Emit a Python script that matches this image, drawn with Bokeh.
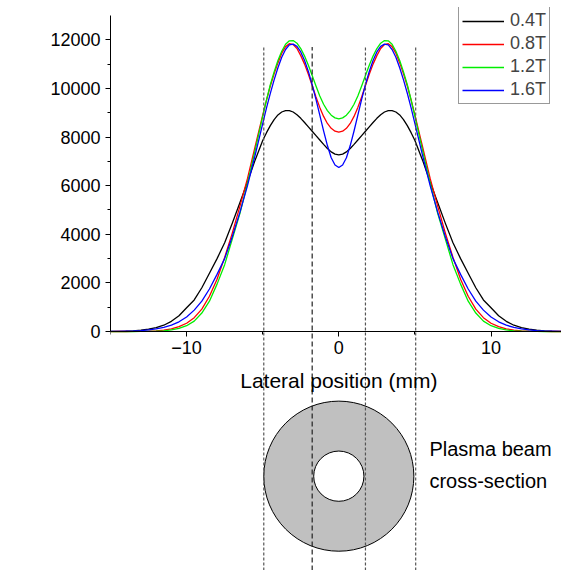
import math
from bokeh.plotting import figure
from bokeh.models import FixedTicker, Legend, LegendItem, Label
from bokeh.embed import file_html
from bokeh.resources import INLINE
from bokeh.core.properties import value

FONT = "Liberation Sans"

# Lateral position (mm)
positions = [-15.0, -14.5, -14.0, -13.5, -13.0, -12.5, -12.0, -11.5, -11.0, -10.5,
             -10.0, -9.5, -9.0, -8.5, -8.0, -7.5, -7.0, -6.5, -6.0, -5.5,
             -5.0, -4.75, -4.5, -4.25, -4.0, -3.75, -3.5, -3.25, -3.0, -2.75,
             -2.5, -2.25, -2.0, -1.75, -1.5, -1.25, -1.0, -0.75, -0.5, -0.25,
             0.0,
             0.25, 0.5, 0.75, 1.0, 1.25, 1.5, 1.75, 2.0, 2.25, 2.5,
             2.75, 3.0, 3.25, 3.5, 3.75, 4.0, 4.25, 4.5, 4.75, 5.0,
             5.5, 6.0, 6.5, 7.0, 7.5, 8.0, 8.5, 9.0, 9.5, 10.0,
             10.5, 11.0, 11.5, 12.0, 12.5, 13.0, 13.5, 14.0, 14.5, 15.0]

# Emission (a.u.) for each magnetic field
em_04T = [4, 8, 15, 30, 55, 95, 160, 260, 420, 650,
          980, 1300, 1800, 2400, 3000, 3650, 4450, 5300, 6150, 7050,
          7860, 8180, 8470, 8720, 8910, 9030, 9085, 9085, 9030, 8920,
          8770, 8600, 8420, 8240, 8060, 7880, 7700, 7530, 7390, 7300,
          7270,
          7300, 7390, 7530, 7700, 7880, 8060, 8240, 8420, 8600, 8770,
          8920, 9030, 9085, 9085, 9030, 8910, 8720, 8470, 8180, 7860,
          7050, 6150, 5300, 4450, 3650, 3000, 2400, 1800, 1300, 980,
          650, 420, 260, 160, 95, 55, 30, 15, 8, 4]
em_08T = [0, 1, 2, 4, 8, 15, 30, 60, 110, 200,
          340, 570, 920, 1450, 2150, 3050, 4050, 5150, 6300, 7600,
          8900, 9520, 10100, 10600, 11050, 11450, 11720, 11840, 11800, 11640,
          11350, 11000, 10580, 10120, 9650, 9220, 8850, 8560, 8360, 8240,
          8200,
          8240, 8360, 8560, 8850, 9220, 9650, 10120, 10580, 11000, 11350,
          11640, 11800, 11840, 11720, 11450, 11050, 10600, 10100, 9520, 8900,
          7600, 6300, 5150, 4050, 3050, 2150, 1450, 920, 570, 340,
          200, 110, 60, 30, 15, 8, 4, 2, 1, 0]
em_12T = [0, 0, 0, 1, 3, 6, 14, 30, 65, 130,
          240, 430, 760, 1250, 1950, 2750, 3800, 4850, 6100, 7450,
          8850, 9530, 10150, 10680, 11150, 11530, 11820, 11960, 11970, 11860,
          11640, 11330, 10950, 10530, 10100, 9690, 9350, 9090, 8900, 8790,
          8750,
          8790, 8900, 9090, 9350, 9690, 10100, 10530, 10950, 11330, 11640,
          11860, 11970, 11960, 11820, 11530, 11150, 10680, 10150, 9530, 8850,
          7450, 6100, 4850, 3800, 2750, 1950, 1250, 760, 430, 240,
          130, 65, 30, 14, 6, 3, 1, 0, 0, 0]
em_16T = [3, 6, 12, 22, 40, 65, 105, 170, 260, 400,
          600, 880, 1250, 1750, 2350, 3000, 3900, 4900, 6000, 7250,
          8550, 9200, 9800, 10350, 10850, 11280, 11600, 11790, 11820, 11730,
          11500, 11150, 10700, 10150, 9550, 8900, 8250, 7650, 7150, 6850,
          6750,
          6850, 7150, 7650, 8250, 8900, 9550, 10150, 10700, 11150, 11500,
          11730, 11820, 11790, 11600, 11280, 10850, 10350, 9800, 9200, 8550,
          7250, 6000, 4900, 3900, 3000, 2350, 1750, 1250, 880, 600,
          400, 260, 170, 105, 65, 40, 22, 12, 6, 3]

series_labels = ["0.4T", "0.8T", "1.2T", "1.6T"]
series_colors = ["#000000", "#ff0000", "#00ee00", "#0000ff"]
series_values = [em_04T, em_08T, em_12T, em_16T]

y_ticks = [0, 2000, 4000, 6000, 8000, 10000, 12000]
y_minor = [1000, 3000, 5000, 7000, 9000, 11000]
x_ticks = [-10, 0, 10]
x_minor = [-15, -5, 5, 15]

# beam cross-section (annulus) and guide lines
guide_x = [-4.93, -1.75, 1.75, 5.05]
ring_outer = 4.93
ring_inner = 1.65
ring_center_y = -5950

Y_AXIS_TOP = 13000
Y_TOP = 13329
Y_BOT = -9830

p = figure(width=561, height=570, x_range=(-15, 14.63), y_range=(Y_BOT, Y_TOP),
           output_backend="svg", toolbar_location=None,
           min_border_left=110, min_border_right=0, min_border_top=7,
           min_border_bottom=0)
p.outline_line_color = None
p.grid.visible = False
p.background_fill_color = "white"
p.border_fill_color = "white"

# x axis at y = 0
xa = p.xaxis[0]
xa.fixed_location = 0
xa.ticker = FixedTicker(ticks=x_ticks, minor_ticks=x_minor)
xa.axis_line_color = "black"
xa.major_tick_line_color = "black"
xa.minor_tick_line_color = "black"
xa.major_tick_out = 5
xa.major_tick_in = 0
xa.minor_tick_out = 3
xa.minor_tick_in = 0
xa.major_label_text_font = FONT
xa.major_label_text_font_size = "18px"
xa.major_label_text_color = "black"
xa.major_label_standoff = 4

ya = p.yaxis[0]
ya.bounds = (0, Y_AXIS_TOP)
ya.ticker = FixedTicker(ticks=y_ticks, minor_ticks=y_minor)
ya.axis_line_color = "black"
ya.major_tick_line_color = "black"
ya.minor_tick_line_color = "black"
ya.major_tick_out = 5
ya.major_tick_in = 0
ya.minor_tick_out = 3
ya.minor_tick_in = 0
ya.major_label_text_font = FONT
ya.major_label_text_font_size = "18px"
ya.major_label_text_color = "black"
ya.major_label_standoff = 5

# cross-section ring
p.annulus(x=[0], y=[ring_center_y], inner_radius=ring_inner, outer_radius=ring_outer,
          fill_color="#c0c0c0", line_color="black", line_width=1)

# curves
renderers = []
for vals, col in zip(series_values, series_colors):
    r = p.line(positions, vals, line_color=col, line_width=1.3, line_join="round")
    renderers.append(r)

# guide lines
styles = [("#555555", "3 2"), ("#222222", "5 3"), ("#555555", "3 2"), ("#555555", "3 2")]
for gx, (c, d) in zip(guide_x, styles):
    p.segment(x0=[gx], y0=[Y_BOT], x1=[gx], y1=[11700], line_color=c,
              line_dash=d, line_width=1.2)

p.text(x=[5.95, 5.95], y=[-4814, -6130], text=["Plasma beam", "cross-section"],
       text_font=value(FONT), text_font_size="20px", text_color="black",
       text_baseline="middle", text_align="left")

p.add_layout(Label(x=0, y=-2016, text="Lateral position (mm)", text_font=FONT,
                   text_font_size="21px", text_align="center",
                   text_baseline="alphabetic", text_color="black"))
p.add_layout(Label(x=-20.47, y=7838, text="Emission (a.u.)", text_font=FONT,
                   text_font_size="21px", text_align="center", angle=math.pi / 2,
                   text_baseline="alphabetic", text_color="black"))

legend = Legend(items=[LegendItem(label=l, renderers=[r]) for l, r in zip(series_labels, renderers)],
                location=(348, 466))
legend.border_line_color = "#333333"
legend.border_line_width = 1
legend.background_fill_color = "white"
legend.background_fill_alpha = 1
legend.label_text_font = FONT
legend.label_text_font_size = "18px"
legend.glyph_width = 42
legend.glyph_height = 18
legend.label_height = 18
legend.label_standoff = 6
legend.padding = 3
legend.spacing = 2
legend.margin = 0
p.add_layout(legend)

open("out.html", "w").write(file_html(p, INLINE))
